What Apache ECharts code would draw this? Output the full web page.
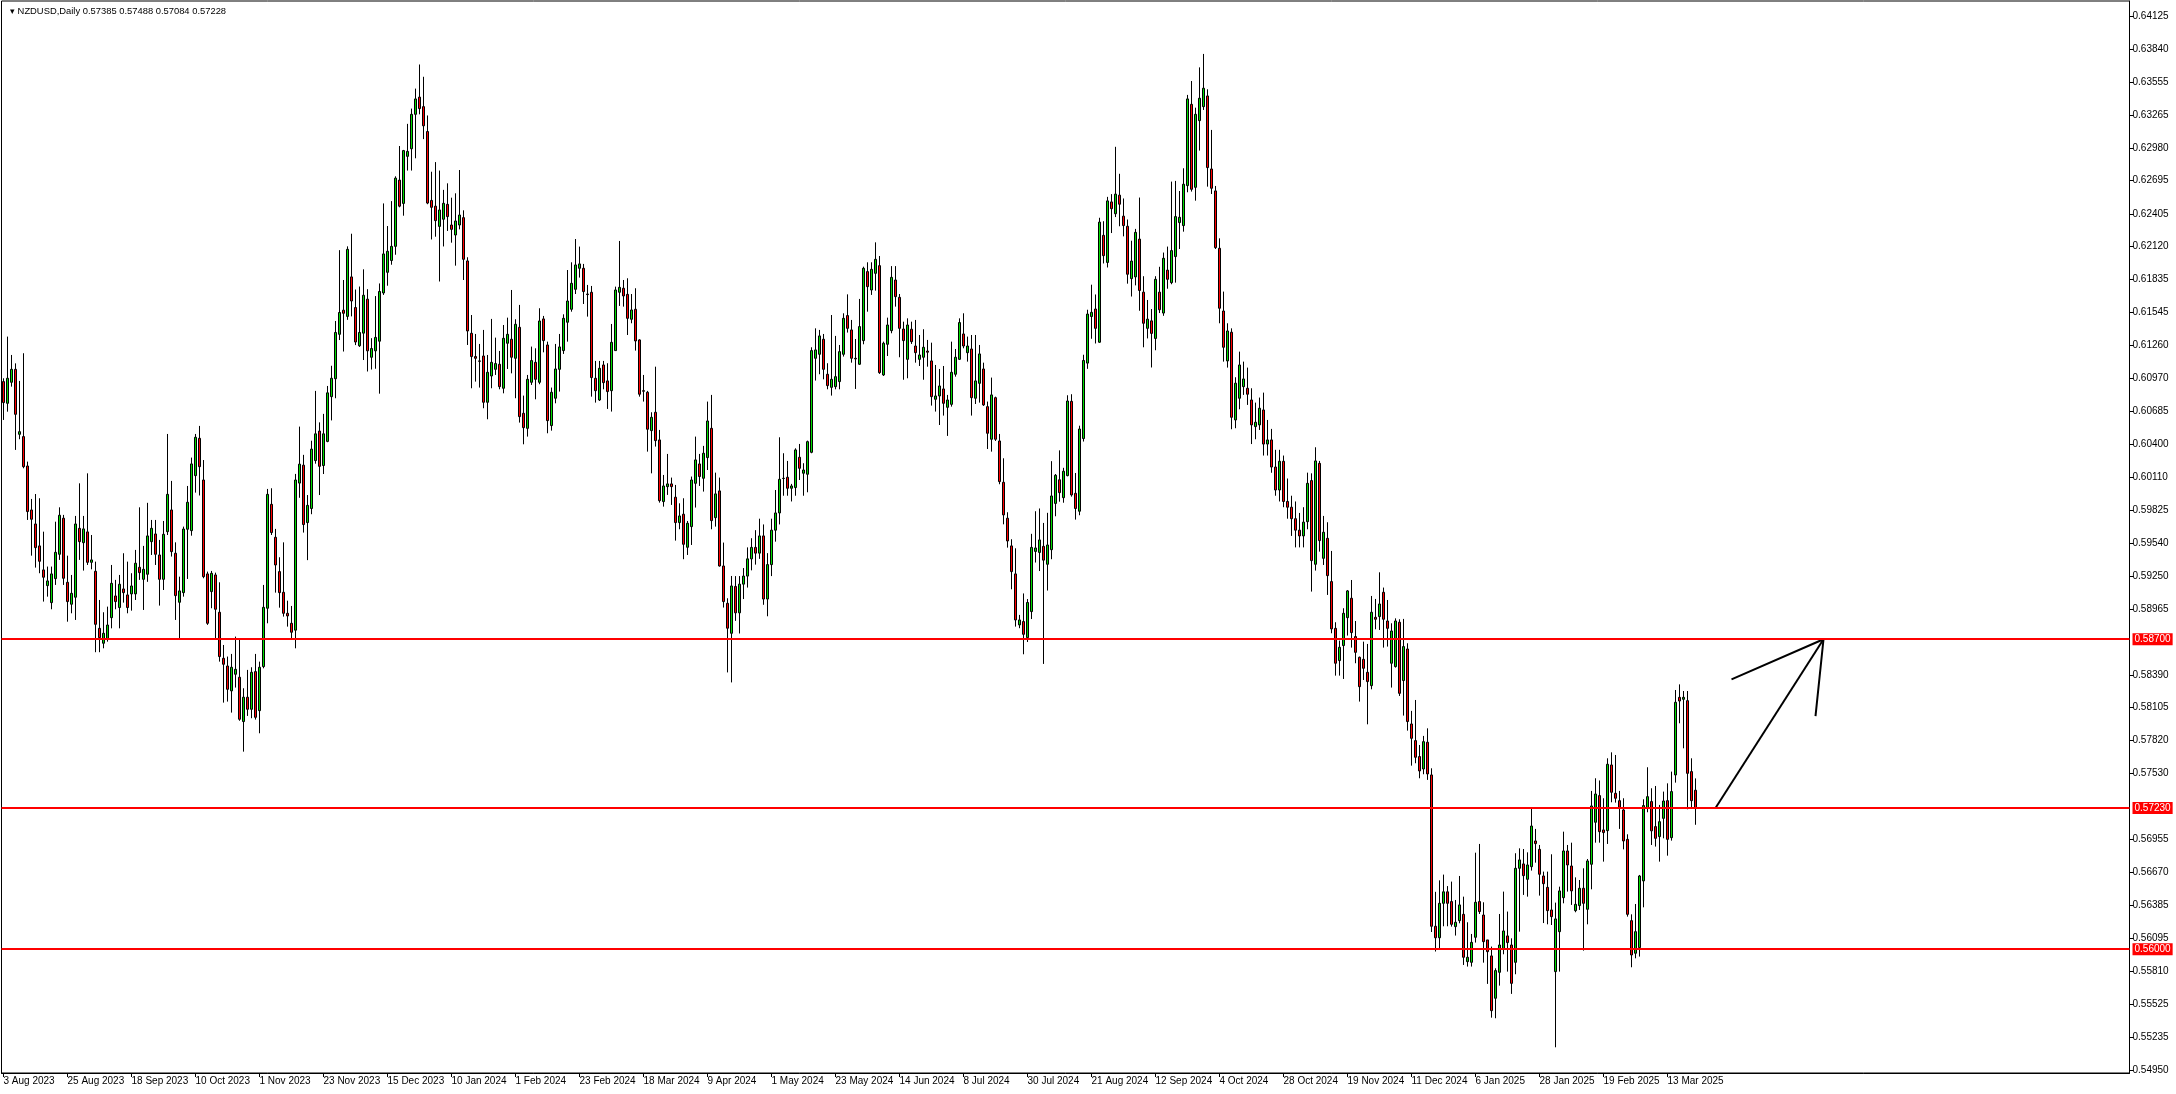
<!DOCTYPE html>
<html><head><meta charset="utf-8">
<script src="https://cdn.jsdelivr.net/npm/echarts@6/dist/echarts.min.js"></script>
<style>html,body{margin:0;padding:0;background:#fff;}#c{width:2176px;height:1094px;}</style>
</head><body><div id="c"></div>
<script>
const symbolName = 'NZDUSD,Daily';
const lastQuote = ['0.57385', '0.57488', '0.57084', '0.57228'];
const holidays = ['12-25', '01-01'];
const monthNames = ['Jan','Feb','Mar','Apr','May','Jun','Jul','Aug','Sep','Oct','Nov','Dec'];
const emptySlots = 108;
// rows: [open, high, low, close]
const bars2023 = [
[0.60944,0.60973,0.60610,0.60761],[0.60755,0.61336,0.60682,0.60973],[0.60938,0.61176,0.60900,0.61051],[0.61051,0.61103,0.60349,0.60659],
[0.60485,0.60950,0.60442,0.60508],[0.60465,0.61191,0.60189,0.60203],[0.60209,0.60247,0.59739,0.59812],[0.59826,0.59922,0.59428,0.59745],
[0.59704,0.59965,0.59324,0.59498],[0.59513,0.59928,0.59275,0.59379],[0.59304,0.59637,0.59028,0.59240],[0.59167,0.59333,0.59071,0.59208],
[0.59019,0.59333,0.58961,0.59269],[0.59228,0.59724,0.59173,0.59457],[0.59440,0.59849,0.59391,0.59780],[0.59754,0.59783,0.59173,0.59231],
[0.59196,0.59428,0.58853,0.59028],[0.59005,0.59260,0.58926,0.59100],[0.59066,0.59774,0.58868,0.59704],[0.59666,0.60058,0.59391,0.59550],
[0.59541,0.59774,0.59298,0.59661],[0.59635,0.60145,0.59347,0.59370],[0.59370,0.59608,0.59309,0.59391],[0.59292,0.59376,0.58587,0.58830],
[0.58795,0.59042,0.58587,0.58714],[0.58665,0.58935,0.58621,0.58752],[0.58700,0.58984,0.58679,0.58824],[0.58888,0.59347,0.58795,0.59187],
[0.59077,0.59217,0.58961,0.59028],[0.58976,0.59260,0.58795,0.59179],[0.59138,0.59449,0.59019,0.59106],[0.59086,0.59376,0.58926,0.58976],
[0.59095,0.59275,0.58949,0.59164],[0.59095,0.59478,0.59042,0.59362],[0.59327,0.59849,0.59217,0.59280],[0.59222,0.59513,0.58955,0.59309],
[0.59266,0.59888,0.59200,0.59600],[0.59550,0.59739,0.59434,0.59666],[0.59617,0.59739,0.59347,0.59440],[0.59434,0.59565,0.58993,0.59222],
[0.59222,0.59730,0.59129,0.59614],[0.59637,0.60488,0.59608,0.59962],[0.59826,0.60079,0.59420,0.59463],[0.59449,0.59544,0.58868,0.59080],
[0.59022,0.59245,0.58694,0.59121],[0.59106,0.59681,0.59071,0.59660],[0.59658,0.60035,0.59225,0.59893],[0.59646,0.60282,0.59602,0.60227],
[0.60125,0.60488,0.59977,0.60459],[0.60450,0.60558,0.59952,0.60203],[0.60087,0.60261,0.59231,0.59245],[0.59269,0.59289,0.58825,0.58839],
[0.59115,0.59295,0.58970,0.59274],[0.59260,0.59280,0.58700,0.58961],[0.58935,0.59196,0.58505,0.58549],[0.58534,0.58650,0.58148,0.58482],
[0.58467,0.58549,0.58157,0.58264],[0.58250,0.58572,0.58061,0.58456],[0.58395,0.58723,0.58279,0.58438],[0.58369,0.58694,0.57990,0.58003],
[0.57983,0.58273,0.57721,0.58195],[0.58195,0.58433,0.58032,0.58090],[0.58090,0.58456,0.58012,0.58412],[0.58418,0.58572,0.58000,0.58020],
[0.58078,0.58505,0.57881,0.58456],[0.58462,0.59173,0.58447,0.58978],[0.58970,0.60009,0.58839,0.59962],[0.59875,0.60015,0.59608,0.59629],
[0.59588,0.59661,0.59106,0.59347],[0.59289,0.59414,0.58975,0.59106],[0.59109,0.59544,0.58897,0.58926],[0.58926,0.59036,0.58810,0.58903],
[0.58839,0.58990,0.58694,0.58761],[0.58779,0.60140,0.58621,0.60087],[0.60060,0.60552,0.59932,0.60225],[0.60216,0.60306,0.59629,0.59699],
[0.59716,0.59956,0.59389,0.59866],[0.59839,0.60429,0.59789,0.60356],[0.60256,0.60863,0.60229,0.60489],[0.60513,0.60589,0.59956,0.60206],
[0.60213,0.60663,0.60139,0.60489],[0.60423,0.60906,0.60416,0.60846],[0.60813,0.61082,0.60606,0.60973],[0.60969,0.61472,0.60799,0.61372],
[0.61356,0.62089,0.61306,0.61546],[0.61566,0.61829,0.61206,0.61539],[0.61512,0.62122,0.61482,0.62096],[0.61856,0.62232,0.61512,0.61646],
[0.61589,0.61746,0.61262,0.61289],[0.61256,0.61772,0.61246,0.61372],[0.61366,0.61922,0.61132,0.61696],[0.61662,0.61749,0.61032,0.61212],
[0.61156,0.61322,0.61049,0.61232],[0.61212,0.61689,0.61056,0.61329],[0.61296,0.61799,0.60839,0.61729],[0.61716,0.62496,0.61699,0.62056],
[0.61896,0.62299,0.61779,0.62079],[0.61999,0.62516,0.61962,0.62122],[0.62122,0.62732,0.62049,0.62716],[0.62699,0.62996,0.62462,0.62472],
[0.62496,0.62962,0.62389,0.62956],[0.62906,0.63189,0.62782,0.62949],[0.62972,0.63322,0.62782,0.63272],[0.63272,0.63496,0.62889,0.63406],
[0.63422,0.63706,0.63272,0.63322],[0.63339,0.63599,0.63056,0.63172]
];
const bars2024 = [
[0.63122,0.63262,0.62489,0.62499],[0.62522,0.62772,0.62182,0.62462],[0.62472,0.62856,0.62206,0.62346],[0.62296,0.62782,0.61816,0.62439],
[0.62358,0.62614,0.62121,0.62497],[0.62488,0.62671,0.62256,0.62381],[0.62308,0.62546,0.62154,0.62270],[0.62221,0.62584,0.61954,0.62343],
[0.62308,0.62787,0.62270,0.62395],[0.62372,0.62436,0.61829,0.62009],[0.61995,0.62027,0.61263,0.61385],[0.61365,0.61524,0.60886,0.61162],
[0.61162,0.61359,0.60944,0.61147],[0.61124,0.61272,0.60892,0.61121],[0.61167,0.61394,0.60712,0.60764],[0.60764,0.61176,0.60616,0.61025],
[0.60993,0.61490,0.60886,0.61112],[0.61051,0.61327,0.61002,0.61101],[0.61095,0.61211,0.60877,0.60900],[0.60886,0.61437,0.60842,0.61321],
[0.61278,0.61501,0.61054,0.61356],[0.61313,0.61742,0.61016,0.61156],[0.61147,0.61487,0.60799,0.61443],[0.61417,0.61612,0.60587,0.60639],
[0.60668,0.60822,0.60398,0.60543],[0.60537,0.61002,0.60465,0.60964],[0.60938,0.61249,0.60915,0.61127],[0.61112,0.61234,0.60790,0.60964],
[0.60938,0.61583,0.60921,0.61472],[0.61490,0.61516,0.61199,0.61301],[0.61263,0.61292,0.60494,0.60604],[0.60561,0.60892,0.60517,0.60851],
[0.60799,0.61272,0.60755,0.61054],[0.61051,0.61359,0.60857,0.61246],[0.61214,0.61530,0.61185,0.61495],[0.61461,0.61916,0.61292,0.61646],
[0.61574,0.61983,0.61553,0.61800],[0.61748,0.62186,0.61707,0.61960],[0.61931,0.62120,0.61850,0.61969],[0.61931,0.61969,0.61620,0.61728],
[0.61707,0.61786,0.61510,0.61702],[0.61722,0.61777,0.60813,0.60979],[0.60973,0.61124,0.60761,0.60865],[0.60784,0.61124,0.60775,0.61060],
[0.61089,0.61124,0.60877,0.60935],[0.60950,0.61104,0.60706,0.60857],[0.60865,0.61446,0.60683,0.61286],[0.61214,0.61771,0.61214,0.61742],
[0.61722,0.62169,0.61603,0.61765],[0.61757,0.61829,0.61597,0.61690],[0.61704,0.61844,0.61350,0.61495],[0.61487,0.61707,0.61452,0.61568],
[0.61574,0.61757,0.61214,0.61298],[0.61307,0.61313,0.60813,0.60834],[0.60865,0.61002,0.60770,0.60860],[0.60851,0.60863,0.60334,0.60529],
[0.60517,0.60677,0.60145,0.60633],[0.60677,0.61074,0.60378,0.60430],[0.60436,0.60523,0.59890,0.59907],[0.59899,0.60131,0.59855,0.60035],
[0.60029,0.60314,0.59957,0.60053],[0.60053,0.60108,0.59870,0.60029],[0.59937,0.60044,0.59559,0.59716],[0.59716,0.59884,0.59658,0.59774],
[0.59789,0.59928,0.59397,0.59527],[0.59501,0.59730,0.59434,0.59710],[0.59681,0.60117,0.59521,0.60087],[0.60058,0.60465,0.59847,0.60262],
[0.60227,0.60314,0.60035,0.60117],[0.60102,0.60384,0.59986,0.60320],[0.60282,0.60770,0.60174,0.60601],[0.60537,0.60828,0.59658,0.59733],
[0.59759,0.60151,0.59681,0.59966],[0.59992,0.60108,0.59333,0.59338],[0.59338,0.59542,0.58976,0.59028],[0.59013,0.59057,0.58411,0.58796],
[0.58752,0.59251,0.58324,0.59164],[0.59160,0.59250,0.58860,0.58930],[0.58930,0.59250,0.58750,0.59180],[0.59180,0.59320,0.59050,0.59250],
[0.59250,0.59500,0.59150,0.59400],[0.59400,0.59580,0.59300,0.59500],[0.59500,0.59650,0.59350,0.59450],[0.59450,0.59750,0.59400,0.59600],
[0.59600,0.59700,0.59000,0.59050],[0.59050,0.59450,0.58900,0.59350],[0.59350,0.59750,0.59250,0.59650],[0.59650,0.60000,0.59550,0.59800],
[0.59800,0.60459,0.59700,0.60093],[0.60100,0.60320,0.59950,0.60102],[0.60111,0.60253,0.59950,0.60015],[0.60015,0.60053,0.59900,0.60035],
[0.60021,0.60363,0.59950,0.60349],[0.60285,0.60401,0.60087,0.60189],[0.60146,0.60233,0.59950,0.60174],[0.60137,0.60430,0.59980,0.60421],
[0.60328,0.61243,0.60320,0.61214],[0.61147,0.61408,0.60953,0.61220],[0.61182,0.61394,0.61008,0.61342],[0.61313,0.61359,0.60964,0.61051],
[0.61008,0.61104,0.60877,0.60909],[0.60894,0.61524,0.60822,0.60964],[0.60900,0.61342,0.60877,0.60987],[0.60944,0.61263,0.60877,0.61205],
[0.61182,0.61539,0.61162,0.61495],[0.61519,0.61704,0.61371,0.61408],[0.61394,0.61481,0.61109,0.61147],[0.61147,0.61315,0.60880,0.61141],
[0.61095,0.61664,0.61089,0.61423],[0.61301,0.61945,0.61269,0.61931],[0.61902,0.61983,0.61553,0.61771],[0.61742,0.61983,0.61699,0.61922],
[0.61887,0.62157,0.61736,0.62009],[0.61954,0.62038,0.61011,0.61022],[0.61002,0.61292,0.60993,0.61278],[0.61269,0.61501,0.61167,0.61437],
[0.61388,0.61950,0.61365,0.61852],[0.61829,0.61950,0.61597,0.61684],[0.61678,0.61707,0.61156,0.61408],[0.61402,0.61466,0.60960,0.61301],
[0.61138,0.61495,0.60973,0.61437],[0.61400,0.61466,0.61272,0.61292],[0.61254,0.61481,0.61109,0.61196],[0.61138,0.61350,0.61080,0.61176],
[0.61156,0.61400,0.60960,0.61243],[0.61210,0.61307,0.61074,0.61200],[0.61124,0.61283,0.60735,0.60813],[0.60790,0.61089,0.60683,0.60819],
[0.60819,0.61054,0.60566,0.60906],[0.60880,0.61080,0.60648,0.60755],[0.60720,0.60828,0.60471,0.60784],[0.60746,0.61292,0.60726,0.61025],
[0.61008,0.61228,0.60987,0.61156],[0.61138,0.61495,0.61133,0.61458],[0.61359,0.61539,0.61234,0.61254],[0.61196,0.61336,0.61118,0.61254],
[0.61228,0.61350,0.60648,0.60804],[0.60799,0.61350,0.60749,0.60950],[0.60929,0.61263,0.60761,0.61185],[0.61054,0.61109,0.60732,0.60741],
[0.60726,0.60770,0.60357,0.60494],[0.60442,0.60979,0.60334,0.60828],[0.60804,0.60813,0.60427,0.60442],[0.60427,0.60488,0.60050,0.60073],
[0.60067,0.60276,0.59701,0.59783],[0.59754,0.59806,0.59498,0.59556],[0.59513,0.59571,0.59135,0.59289],[0.59269,0.59492,0.58810,0.58868],
[0.58825,0.58912,0.58796,0.58868],[0.58854,0.59099,0.58569,0.58743],[0.58714,0.59050,0.58676,0.59020],[0.58941,0.59618,0.58876,0.59500],
[0.59465,0.59815,0.59368,0.59495],[0.59456,0.59839,0.59294,0.59565],[0.59509,0.59713,0.58485,0.59389],[0.59353,0.59801,0.59124,0.59521],
[0.59480,0.60251,0.59397,0.59948],[0.59883,0.60139,0.59771,0.60128],[0.60089,0.60345,0.59898,0.59977],[0.59933,0.60193,0.59889,0.60163],
[0.60125,0.60825,0.60119,0.60775],[0.60772,0.60834,0.59942,0.59957],[0.59971,0.60148,0.59742,0.59839],[0.59815,0.60560,0.59780,0.60531],
[0.60448,0.61178,0.60422,0.61128],[0.61105,0.61570,0.61055,0.61532],[0.61511,0.61788,0.61317,0.61547],[0.61576,0.61703,0.61276,0.61408],
[0.61287,0.62371,0.61282,0.62333],[0.62218,0.62341,0.61973,0.62041],[0.61982,0.62553,0.61938,0.62518],[0.62509,0.62577,0.62238,0.62450],
[0.62406,0.62989,0.62377,0.62577],[0.62568,0.62754,0.62297,0.62489],[0.62385,0.62539,0.62209,0.62303],[0.62297,0.62356,0.61797,0.61879],
[0.61841,0.62171,0.61685,0.61994],[0.61856,0.62274,0.61782,0.62244],[0.62185,0.62547,0.61561,0.61738],[0.61723,0.61862,0.61243,0.61452],
[0.61408,0.61655,0.61320,0.61488],[0.61473,0.61576,0.61067,0.61364],[0.61320,0.61862,0.61217,0.61835],[0.61723,0.61944,0.61541,0.61570],
[0.61541,0.62068,0.61517,0.62018],[0.61915,0.62120,0.61753,0.61835],[0.61806,0.62686,0.61792,0.62085],[0.62033,0.62692,0.61806,0.62381],
[0.62329,0.62604,0.62099,0.62375],[0.62303,0.62802,0.62250,0.62663],[0.62651,0.63441,0.62593,0.63406],[0.63359,0.63562,0.62599,0.62619],
[0.62636,0.63330,0.62520,0.63272],[0.63217,0.63681,0.62956,0.63412],[0.63339,0.63798,0.63310,0.63499],[0.63432,0.63490,0.62642,0.62808],
[0.62796,0.63136,0.62578,0.62628],[0.62605,0.62648,0.62099,0.62111],[0.62105,0.62192,0.61452,0.61583],[0.61559,0.61728,0.61118,0.61243],
[0.61124,0.61452,0.61066,0.61385],[0.61374,0.61408,0.60529,0.60633],[0.60610,0.60982,0.60538,0.60930],[0.60799,0.61205,0.60703,0.61089],
[0.60900,0.61118,0.60828,0.60967],[0.60886,0.61066,0.60741,0.60834],[0.60784,0.60886,0.60400,0.60567],[0.60552,0.60761,0.60442,0.60590],
[0.60567,0.60805,0.60523,0.60712],[0.60697,0.60848,0.60300,0.60400],[0.60400,0.60610,0.60300,0.60436],[0.60436,0.60532,0.60150,0.60200],
[0.60200,0.60350,0.59950,0.60000],[0.60000,0.60350,0.59900,0.60250],[0.60250,0.60300,0.59850,0.59900],[0.59900,0.60100,0.59750,0.59850],
[0.59850,0.59950,0.59600,0.59750],[0.59750,0.59900,0.59500,0.59650],[0.59650,0.59800,0.59500,0.59600],[0.59600,0.59850,0.59500,0.59720],
[0.59724,0.60151,0.59658,0.60058],[0.60082,0.60145,0.59115,0.59385],[0.59353,0.60372,0.59298,0.60253],[0.60232,0.60253,0.59463,0.59559],
[0.59405,0.59774,0.59347,0.59632],[0.59579,0.59719,0.59086,0.59254],[0.59202,0.59469,0.58752,0.58790],[0.58795,0.58848,0.58383,0.58491],
[0.58514,0.58688,0.58383,0.58630],[0.58645,0.58970,0.58354,0.58926],[0.58888,0.59129,0.58732,0.59121],[0.59057,0.59216,0.58627,0.58758],
[0.58723,0.58859,0.58491,0.58586],[0.58543,0.58549,0.58157,0.58287],[0.58525,0.58679,0.58345,0.58447],[0.58412,0.58659,0.57959,0.58331],
[0.58296,0.59077,0.58264,0.58935],[0.58891,0.59051,0.58787,0.58874],[0.58897,0.59283,0.58781,0.59007],[0.59109,0.59150,0.58627,0.58874],
[0.58859,0.59042,0.58636,0.58795],[0.58491,0.58839,0.58279,0.58772],[0.58462,0.58882,0.58453,0.58859],[0.58848,0.58874,0.58206,0.58229],
[0.58340,0.58877,0.58035,0.58636],[0.58615,0.58665,0.57904,0.57983],[0.57962,0.58076,0.57599,0.57837],[0.57817,0.58171,0.57620,0.57672],
[0.57678,0.57779,0.57489,0.57553],[0.57570,0.57858,0.57524,0.57808],[0.57803,0.57924,0.57475,0.57527],[0.57518,0.57576,0.56150,0.56200],
[0.56200,0.56500,0.55980,0.56100],[0.56100,0.56600,0.56000,0.56400],[0.56400,0.56650,0.56200,0.56500],[0.56500,0.56550,0.56200,0.56400],
[0.56415,0.56589,0.56197,0.56217],[0.56197,0.56429,0.56119,0.56235],[0.56249,0.56638,0.56226,0.56386],[0.56304,0.56458,0.55863,0.55930]
];
const bars2025 = [
[0.55892,0.56235,0.55849,0.55930],[0.55886,0.56133,0.55849,0.56060],[0.56104,0.56841,0.56058,0.56409],[0.56415,0.56917,0.56307,0.56328],
[0.56298,0.56409,0.55883,0.56066],[0.56081,0.56081,0.55698,0.55979],[0.55942,0.56023,0.55404,0.55465],[0.55573,0.55834,0.55399,0.55814],
[0.55799,0.56307,0.55683,0.56037],[0.55999,0.56502,0.55956,0.56159],[0.56116,0.56328,0.55805,0.56058],[0.56037,0.56095,0.55611,0.55703],
[0.55886,0.56836,0.55782,0.56705],[0.56705,0.56879,0.56153,0.56778],[0.56743,0.56873,0.56473,0.56641],[0.56609,0.56844,0.56458,0.56734],
[0.56719,0.57228,0.56685,0.57073],[0.56943,0.57048,0.56754,0.56920],[0.56870,0.56908,0.56467,0.56653],[0.56638,0.56676,0.56228,0.56571],
[0.56539,0.56676,0.56217,0.56336],[0.56342,0.56827,0.56211,0.56284],[0.55805,0.56406,0.55146,0.56264],[0.56153,0.56545,0.55805,0.56508],
[0.56449,0.57024,0.56400,0.56856],[0.56856,0.56908,0.56502,0.56734],[0.56725,0.56928,0.56386,0.56508],[0.56336,0.56626,0.56322,0.56391],
[0.56380,0.56603,0.56342,0.56531],[0.56531,0.56705,0.55988,0.56400],[0.56348,0.56786,0.56217,0.56769],[0.56740,0.57379,0.56522,0.57248],
[0.57106,0.57489,0.56928,0.57352],[0.57338,0.57470,0.56928,0.57024],[0.57039,0.57315,0.56763,0.57016],[0.57033,0.57663,0.56917,0.57611],
[0.57605,0.57715,0.57280,0.57367],[0.57358,0.57692,0.57277,0.57315],[0.57294,0.57379,0.57048,0.57236],[0.57213,0.57315,0.56870,0.56943],
[0.56957,0.57001,0.56284,0.56304],[0.56249,0.56304,0.55843,0.55950],[0.55965,0.56394,0.55921,0.56153],[0.56014,0.56647,0.55936,0.56638],
[0.56595,0.57306,0.56365,0.57251],[0.57228,0.57585,0.57193,0.57329],[0.57286,0.57402,0.56908,0.57031],[0.57068,0.57422,0.56894,0.56966],
[0.56981,0.57257,0.56763,0.57111],[0.57140,0.57373,0.56966,0.57291],[0.57294,0.57445,0.56815,0.56957],[0.56972,0.57547,0.56946,0.57373],
[0.57518,0.58258,0.57451,0.58151],[0.58194,0.58307,0.57968,0.58162],[0.58177,0.58249,0.57750,0.58194],[0.58165,0.58249,0.57219,0.57532],
[0.57547,0.57663,0.57228,0.57294],[0.57385,0.57488,0.57084,0.57228]
];
const levels = [0.58700, 0.57230, 0.56000];
const arrowShaft = [[428, 0.5723], [455, 0.5870]];
const arrowHead = [[432, 0.5835], [455, 0.5870], [453, 0.5803]];
const priceTicks = ['0.64125','0.63840','0.63555','0.63265','0.62980','0.62695','0.62405','0.62120','0.61835','0.61545',
  '0.61260','0.60970','0.60685','0.60400','0.60110','0.59825','0.59540','0.59250','0.58965','0.58390','0.58105',
  '0.57820','0.57530','0.56955','0.56670','0.56385','0.56095','0.55810','0.55525','0.55235','0.54950'];

const bars = bars2023.concat(bars2024, bars2025);
const dates = [];
let d = new Date(Date.UTC(2023, 7, 3));
while (dates.length < bars.length) {
  const wd = d.getUTCDay();
  const md = String(d.getUTCMonth() + 1).padStart(2, '0') + '-' + String(d.getUTCDate()).padStart(2, '0');
  if (wd !== 0 && wd !== 6 && holidays.indexOf(md) < 0) {
    dates.push(d.getUTCDate() + ' ' + monthNames[d.getUTCMonth()] + ' ' + d.getUTCFullYear());
  }
  d = new Date(d.getTime() + 86400000);
}
const categories = dates.slice();
for (let k = 0; k < emptySlots; k++) categories.push('_' + k);
const candleData = bars.map(r => [r[0], r[3], r[2], r[1]]);
const labelShown = (idx) => idx < dates.length && idx % 16 === 0;
const FONT = 'Liberation Sans';

const chart = echarts.init(document.getElementById('c'), null, {renderer: 'canvas'});
chart.setOption({
  animation: false,
  backgroundColor: '#ffffff',
  title: {
    text: '\u25BE ' + symbolName + ' ' + lastQuote.join(' '),
    left: 5, top: 2,
    textStyle: {fontSize: 9.4, fontWeight: 'normal', color: '#000', fontFamily: FONT}
  },
  grid: {left: 1.5, right: 46.5, top: 1, bottom: 21, show: true, borderColor: '#000', borderWidth: 1, containLabel: false},
  xAxis: {
    type: 'category', data: categories, boundaryGap: true,
    axisLine: {show: true, lineStyle: {color: '#000', width: 1}},
    axisTick: {show: true, alignWithLabel: true, interval: labelShown, length: 4, lineStyle: {color: '#000'}},
    axisLabel: {interval: labelShown, align: 'left', color: '#000', fontSize: 10, fontFamily: FONT, margin: 3},
    splitLine: {show: false}
  },
  yAxis: {
    type: 'value', position: 'right', min: 0.54922, max: 0.64259, scale: true,
    axisLine: {show: true, lineStyle: {color: '#000'}},
    axisTick: {show: true, customValues: priceTicks.map(Number), length: 4, lineStyle: {color: '#000'}},
    axisLabel: {customValues: priceTicks.map(Number), formatter: v => v.toFixed(5), color: '#000', fontSize: 10, fontFamily: FONT, margin: 3},
    splitLine: {show: false}
  },
  series: [
    {
      type: 'candlestick', data: candleData, barWidth: 2, large: false,
      itemStyle: {color: '#00DC00', color0: '#FF0000', borderColor: '#000', borderColor0: '#000', borderColorDoji: '#000', borderWidth: 1},
      markLine: {
        silent: true, symbol: ['none', 'none'], animation: false, precision: 5,
        lineStyle: {color: '#FF0000', width: 2, type: 'solid'},
        label: {position: 'end', distance: 3, formatter: p => Number(p.value).toFixed(5), color: '#fff', backgroundColor: '#FF0000', padding: [1, 2], fontSize: 10, fontFamily: FONT},
        data: levels.map(v => ({yAxis: v}))
      }
    },
    {type: 'line', data: arrowShaft, symbol: 'none', lineStyle: {color: '#000', width: 2}, silent: true},
    {type: 'line', data: arrowHead, symbol: 'none', lineStyle: {color: '#000', width: 2}, silent: true}
  ]
});
</script></body></html>
